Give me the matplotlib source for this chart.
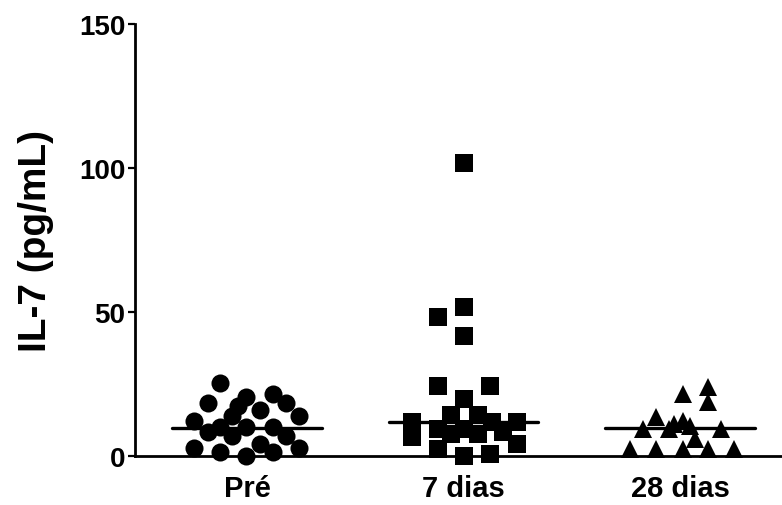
import matplotlib
matplotlib.use("Agg")
import matplotlib.pyplot as plt

# Dados (IL-7, pg/mL)
grupos = ["Pré", "7 dias", "28 dias"]

pre_y = [25.3, 18.3, 20.4, 17.5, 21.5, 18.3, 16.0, 14.0, 14.0, 12.3, 8.2,
         10.0, 7.0, 10.0, 10.0, 7.0, 4.2, 2.7, 1.3, 0.1, 1.3, 2.7]
pre_dx = [-0.125, -0.18, -0.005, -0.04, 0.12, 0.18, 0.06, 0.24, -0.07, -0.245, -0.18,
          -0.125, -0.07, -0.005, 0.12, 0.18, 0.06, -0.245, -0.125, -0.005, 0.12, 0.24]

d7_y = [101.7, 51.6, 48.2, 41.6, 24.2, 24.2, 19.8, 14.2, 14.2, 11.7, 11.7,
        9.4, 11.7, 9.4, 6.5, 7.6, 7.6, 8.2, 4.2, 2.4, 0.7, 0.0]
d7_dx = [0.0, 0.0, -0.12, 0.0, -0.12, 0.12, 0.0, -0.06, 0.065, -0.24, 0.245,
         -0.12, 0.13, 0.0, -0.24, -0.06, 0.065, 0.18, 0.245, -0.12, 0.12, 0.0]

d28_y = [21.5, 23.9, 18.6, 13.4, 12.3, 11.1, 10.5, 9.4, 9.4, 9.4, 5.9,
         2.4, 2.4, 2.4, 2.4, 2.4]
d28_dx = [0.012, 0.13, 0.13, -0.11, 0.012, -0.03, 0.046, -0.17, -0.05, 0.19, 0.07,
          -0.23, -0.11, 0.012, 0.13, 0.25]

medias = [9.6, 11.7, 9.7]

plt.rcParams['font.family'] = ['Liberation Sans', 'DejaVu Sans']
plt.rcParams['font.weight'] = 'bold'

fig = plt.figure(figsize=(7.82, 5.06), dpi=100)
ax = fig.add_axes([0.1726, 0.0968, 0.8274, 0.8538])

series = [(pre_y, pre_dx, 'o'), (d7_y, d7_dx, 's'), (d28_y, d28_dx, '^')]
for i, (ys, dxs, mk) in enumerate(series):
    xs = [i + d for d in dxs]
    ax.plot(xs, ys, linestyle='none', marker=mk, markersize=13,
            color='black', markeredgewidth=0, clip_on=False, zorder=3)
    ax.plot([i - 0.345, i + 0.345], [medias[i], medias[i]], color='black',
            linewidth=2.4, solid_capstyle='round', zorder=4, clip_on=False)

ax.set_xlim(-0.517, 2.47)
ax.set_ylim(0, 150)
ax.set_yticks([0, 50, 100, 150])
ax.set_xticks(range(len(grupos)))
ax.set_xticklabels(grupos)

for s in ['top', 'right']:
    ax.spines[s].set_visible(False)
for s in ['left', 'bottom']:
    ax.spines[s].set_linewidth(2.0)

ax.tick_params(axis='y', length=5, width=1.6, labelsize=20, pad=2)
ax.tick_params(axis='x', length=0, labelsize=21, pad=13)
ax.set_ylabel("IL-7 (pg/mL)", fontsize=28, fontweight='bold', labelpad=18)

fig.savefig("out.png", dpi=100)
